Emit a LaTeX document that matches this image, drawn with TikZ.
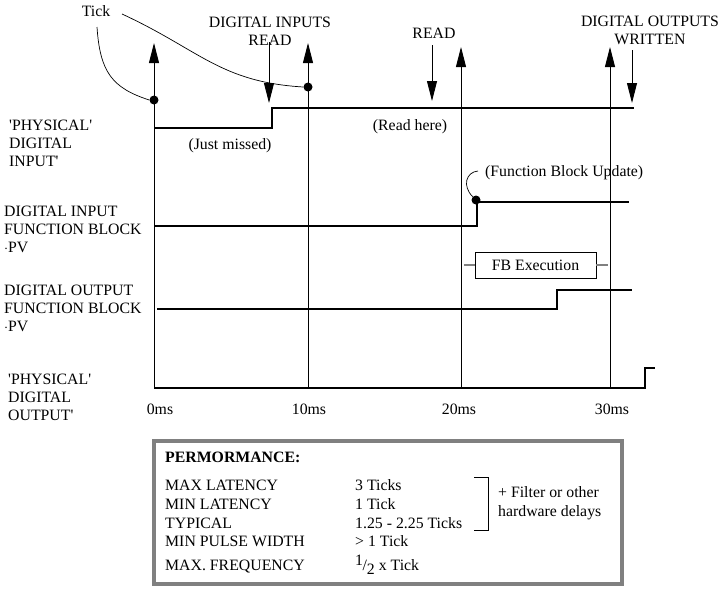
\documentclass[tikz,border=0pt]{standalone}
\usepackage{fontspec}
\setmainfont{Liberation Serif}
\usetikzlibrary{arrows.meta}
\newcommand{\sq}{\textquotesingle}
\begin{document}
\begin{tikzpicture}[x=1pt,y=-1pt,
  every node/.style={font=\fontsize{15.8}{18}\selectfont, inner sep=0pt},
  lab/.style={anchor=west, align=left},
  ctr/.style={align=center},
  bl/.style={anchor=base west},
  sig/.style={line width=2.4pt, line join=miter},
  gridline/.style={line width=0.9pt},
  arr/.style={gridline, -{Triangle[length=20pt,width=10pt]}},
  dotmark/.style={circle, fill=black, minimum size=9pt, inner sep=0pt},
  leader/.style={line width=0.7pt},
  fbbox/.style={draw, line width=0.8pt, minimum width=121pt, minimum height=26pt},
  graylead/.style={line width=1.3pt, draw=gray},
  perfframe/.style={line width=4.5pt, draw=gray}
]
\useasboundingbox (0,0) rectangle (724,590);

% time grid with upward tick arrows
\coordinate (t0b) at (154,388); \coordinate (t0t) at (154,43);
\coordinate (t1b) at (308,388); \coordinate (t1t) at (308,43);
\coordinate (t2b) at (461,388); \coordinate (t2t) at (461,47);
\coordinate (t3b) at (610,388); \coordinate (t3t) at (610,47);
\draw[arr] (t0b) -- (t0t);
\draw[arr] (t1b) -- (t1t);
\draw[arr] (t2b) -- (t2t);
\draw[arr] (t3b) -- (t3t);

% downward read/write arrows
\coordinate (r1s) at (269,42);  \coordinate (r1e) at (269,103);
\coordinate (r2s) at (432,45);  \coordinate (r2e) at (432,101);
\coordinate (r3s) at (632,50);  \coordinate (r3e) at (632,103);
\draw[arr] (r1s) -- (r1e);
\draw[arr] (r2s) -- (r2e);
\draw[arr] (r3s) -- (r3e);

% signals
\draw[sig] (154,128) -- (272,128) -- (272,108) -- (634,108);
\draw[sig] (154,226) -- (477,226) -- (477,202) -- (629,202);
\draw[sig] (157,309) -- (557,309) -- (557,290) -- (632,290);
\draw[sig] (154,388) -- (645,388) -- (645,368) -- (655,368);

% tick dots and leaders
\node[dotmark] (d0) at (154,100) {};
\node[dotmark] (d1) at (308,87) {};
\node[dotmark] (d2) at (476,200) {};
\node (tick) at (96,11) {Tick};
\coordinate (tk1) at (97,27);
\coordinate (tk2) at (122,14);
\draw[leader] (tk1) .. controls (100,72) and (112,88) .. (d0.west);
\draw[leader] (tk2) .. controls (200,50) and (220,82) .. (d1.west);

\node[bl] (fbu) at (485,176) {(Function Block Update)};
\coordinate (fbus) at (478,171);
\draw[leader] (d2.north west) .. controls (462,186) and (466,172) .. (fbus);

% text labels
\node[ctr] (dir) at (270,31) {DIGITAL INPUTS\\READ};
\node (rd) at (434,33) {READ};
\node[ctr] (dow) at (650,30) {DIGITAL OUTPUTS\\WRITTEN};
\node (rh) at (410,127) {(Read here)};
\node (jm) at (230,146) {(Just missed)};

\node[lab] (lpi) at (9,143) {\sq PHYSICAL\sq\\DIGITAL\\INPUT\sq};
\node[lab] (ldi) at (4,229) {DIGITAL INPUT\\FUNCTION BLOCK\\$\cdot$PV};
\node[lab] (ldo) at (4,308) {DIGITAL OUTPUT\\FUNCTION BLOCK\\$\cdot$PV};
\node[lab] (lpo) at (8,397) {\sq PHYSICAL\sq\\DIGITAL\\OUTPUT\sq};

\node (ms0) at (160,409) {0ms};
\node (ms1) at (309,409) {10ms};
\node (ms2) at (459,409) {20ms};
\node (ms3) at (612,409) {30ms};

% FB execution
\node[fbbox] (fbx) at (535.5,265) {FB Execution};
\coordinate (gl) at (464,265); \coordinate (gr) at (608,265);
\draw[graylead] (gl) -- (fbx.west);
\draw[graylead] (fbx.east) -- (gr);

% performance box
\draw[perfframe] (154,441) rectangle (622,584);
\node[bl, font=\fontsize{15.8}{18}\selectfont\bfseries] (perf) at (165,462) {PERMORMANCE:};
\node[bl] (a1) at (165,490) {MAX LATENCY};
\node[bl] (a2) at (165,509) {MIN LATENCY};
\node[bl] (a3) at (165,528) {TYPICAL};
\node[bl] (a4) at (165,546) {MIN PULSE WIDTH};
\node[bl] (a5) at (165,570) {MAX. FREQUENCY};
\node[bl] (b1) at (355,490) {3 Ticks};
\node[bl] (b2) at (355,509) {1 Tick};
\node[bl] (b3) at (355,528) {1.25 - 2.25 Ticks};
\node[bl] (b4) at (355,546) {> 1 Tick};
\node[bl] (b5) at (355,570) {\raisebox{5pt}{1}\kern-0.5pt/\raisebox{-4pt}{2} x Tick};
\coordinate (bk1) at (474,477); \coordinate (bk2) at (488,477);
\coordinate (bk3) at (488,530); \coordinate (bk4) at (474,530);
\draw[gridline] (bk1) -- (bk2) -- (bk3) -- (bk4);
\node[lab, font=\fontsize{15.8}{19}\selectfont] (flt) at (498,503) {+ Filter or other\\hardware delays};
\end{tikzpicture}
\end{document}
